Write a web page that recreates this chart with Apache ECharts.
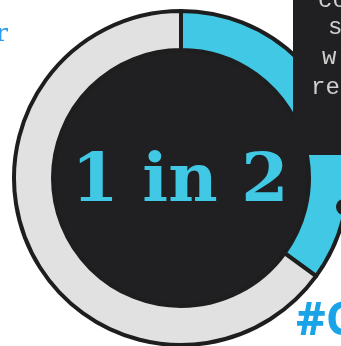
<!DOCTYPE html>
<html>
<head>
<meta charset="utf-8">
<script src="https://cdn.jsdelivr.net/npm/echarts@6/dist/echarts.min.js"></script>
<style>
html,body{margin:0;padding:0;background:#fff;}
#c{width:341px;height:346px;}
</style>
</head>
<body>
<div id="c"></div>
<script>
var categories = ['Share', 'Rest'];
var values = [126, 234];
var centerLabel = '1 in 2';
var boxLines = ['co', 's', 'w', 'rep'];
var sideLabel = 'r';
var hashLabel = '#C';

var chart = echarts.init(document.getElementById('c'), null, {renderer: 'canvas'});
var cx = 181, cy = 178;
var boxFont = '24px "Liberation Mono"';
var option = {
  animation: false,
  backgroundColor: '#ffffff',
  series: [
    {
      type: 'pie',
      silent: true,
      center: [cx, cy],
      radius: [0, 128],
      label: {show: false},
      labelLine: {show: false},
      data: [{value: 1, name: 'center', itemStyle: {color: '#202022'}}],
      z: 1
    },
    {
      type: 'pie',
      silent: true,
      center: [cx, cy],
      radius: [128, 167],
      startAngle: 90,
      clockwise: true,
      label: {show: false},
      labelLine: {show: false},
      itemStyle: {borderColor: '#1e1e1e', borderWidth: 4},
      data: categories.map(function (c, i) {
        return {name: c, value: values[i], itemStyle: {color: i === 0 ? '#40c8e4' : '#e1e1e1'}};
      }),
      z: 2
    }
  ],
  graphic: [
    {
      type: 'text', z: 50,
      style: {
        text: centerLabel, x: cx - 1, y: 183, align: 'center', verticalAlign: 'middle',
        fill: '#40c8e4', font: 'bold 68px "DejaVu Serif"'
      }
    },
    {
      type: 'rect', z: 60,
      shape: {x: 293, y: -20, width: 80, height: 175, r: 10},
      style: {fill: '#202022'}
    },
    {
      type: 'circle', z: 60,
      shape: {cx: 344, cy: 207, r: 8},
      style: {fill: '#202022'}
    },
    {
      type: 'text', z: 70,
      style: {text: boxLines[0], x: 318, y: 1, verticalAlign: 'middle', fill: '#d0d0d0', font: boxFont}
    },
    {
      type: 'text', z: 70,
      style: {text: boxLines[1], x: 328, y: 28, verticalAlign: 'middle', fill: '#d0d0d0', font: boxFont}
    },
    {
      type: 'text', z: 70,
      style: {text: boxLines[2], x: 322, y: 58, verticalAlign: 'middle', fill: '#d0d0d0', font: boxFont}
    },
    {
      type: 'text', z: 70,
      style: {text: boxLines[3], x: 311, y: 88, verticalAlign: 'middle', fill: '#d0d0d0', font: boxFont}
    },
    {
      type: 'text', z: 70,
      style: {text: sideLabel, x: 8, y: 34, align: 'right', verticalAlign: 'middle', fill: '#2d9cf0', font: '25px "DejaVu Serif"'}
    },
    {
      type: 'text', z: 70,
      style: {text: hashLabel, x: 296, y: 322, verticalAlign: 'middle', fill: '#1aa3e6', font: 'bold 46px "Open Sans"'}
    }
  ]
};
chart.setOption(option);
</script>
</body>
</html>
